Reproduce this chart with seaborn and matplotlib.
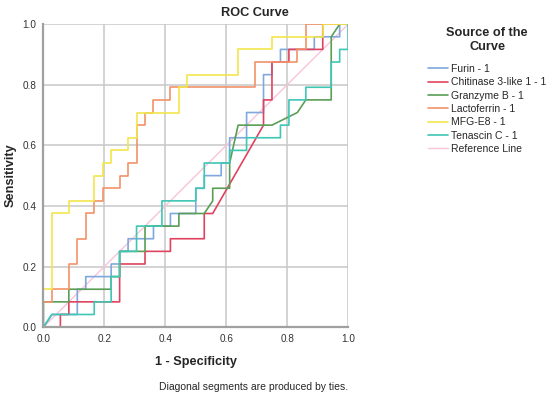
import matplotlib
matplotlib.use("Agg")
import matplotlib.pyplot as plt
import seaborn as sns
import pandas as pd
from matplotlib.lines import Line2D

# ROC vertices, as counts: false positives out of 36 negatives,
# true positives out of 24 positives
N_NEG = 36
N_POS = 24

furin_fp = [0, 1, 4, 4, 5, 5, 8, 8, 9, 9, 10, 10, 13, 13, 15, 15, 18, 18, 19, 19, 21, 21, 22, 22, 24, 24, 26, 26, 27, 27, 28, 28, 32, 32, 35, 35, 36]
furin_tp = [0, 1, 1, 3, 3, 4, 4, 5, 5, 6, 6, 7, 7, 8, 8, 9, 9, 11, 11, 12, 12, 13, 13, 15, 15, 17, 17, 20, 20, 21, 21, 22, 22, 23, 23, 24, 24]

chit_fp = [0, 2, 2, 3, 3, 9, 9, 12, 12, 15, 15, 19, 19, 20, 26, 26, 27, 27, 29, 29, 33, 33, 36]
chit_tp = [0, 0, 1, 1, 2, 2, 5, 5, 6, 6, 7, 7, 9, 9, 16, 18, 18, 21, 21, 22, 22, 24, 24]

gran_fp = [0, 0, 3, 3, 8, 8, 9, 9, 12, 12, 16, 16, 19, 20, 20, 22, 22, 23, 27, 30, 31, 34, 34, 35, 36]
gran_tp = [0, 2, 2, 3, 3, 4, 4, 6, 6, 8, 8, 9, 9, 10, 11, 11, 13, 16, 16, 17, 18, 18, 23, 24, 24]

lact_fp = [0, 0, 1, 1, 3, 3, 4, 4, 5, 5, 6, 6, 7, 7, 9, 9, 10, 10, 11, 11, 12, 12, 13, 13, 15, 15, 25, 25, 30, 30, 31, 31, 36]
lact_tp = [0, 2, 2, 3, 3, 5, 5, 7, 7, 9, 9, 10, 10, 11, 11, 12, 12, 13, 13, 16, 16, 17, 17, 18, 18, 19, 19, 21, 21, 22, 22, 24, 24]

mfge_fp = [0, 0, 1, 1, 3, 3, 6, 6, 7, 7, 8, 8, 10, 10, 11, 11, 16, 16, 17, 17, 23, 23, 27, 27, 33, 33, 36]
mfge_tp = [0, 3, 3, 9, 9, 10, 10, 12, 12, 13, 13, 14, 14, 15, 15, 17, 17, 19, 19, 20, 20, 22, 22, 23, 23, 24, 24]

tena_fp = [0, 1, 6, 6, 8, 8, 9, 9, 11, 11, 14, 14, 18, 18, 19, 19, 22, 22, 24, 24, 28, 28, 29, 29, 31, 31, 34, 34, 35, 35, 36, 36]
tena_tp = [0, 1, 1, 2, 2, 4, 4, 6, 6, 8, 8, 10, 10, 11, 11, 13, 13, 14, 14, 15, 15, 16, 16, 18, 18, 19, 19, 21, 21, 22, 22, 24]

ref_x = [0, 1]
ref_y = [0, 1]

names = ["Furin - 1", "Chitinase 3-like 1 - 1", "Granzyme B - 1",
         "Lactoferrin - 1", "MFG-E8 - 1", "Tenascin C - 1"]
fps = [furin_fp, chit_fp, gran_fp, lact_fp, mfge_fp, tena_fp]
tps = [furin_tp, chit_tp, gran_tp, lact_tp, mfge_tp, tena_tp]
colors = ["#7fa8dc", "#e0435f", "#5a9e56", "#f4926a", "#f2e54a", "#3fc6b4"]
ref_color = "#f9c4da"

rows = []
for name, fp, tp in zip(names, fps, tps):
    for i, (a, b) in enumerate(zip(fp, tp)):
        rows.append({"curve": name, "order": i, "fpr": a / N_NEG, "tpr": b / N_POS})
df = pd.DataFrame(rows)
ref_df = pd.DataFrame({"fpr": ref_x, "tpr": ref_y})

sns.set_theme(style="white")
plt.rcParams["font.family"] = ["Liberation Sans", "DejaVu Sans"]

fig = plt.figure(figsize=(5.5, 3.96), dpi=100)
ax = fig.add_axes([0.079, 0.174, 0.554, 0.765])

ax.set_xlim(0, 1)
ax.set_ylim(0, 1)
for v in [0.2, 0.4, 0.6, 0.8, 1.0]:
    ax.axvline(v, color="#c8c8c8", lw=1.1, zorder=0)
    ax.axhline(v, color="#c8c8c8", lw=1.1, zorder=0)

sns.lineplot(data=ref_df, x="fpr", y="tpr", color=ref_color, lw=1.0, ax=ax,
             estimator=None, sort=False, legend=False)
sns.lineplot(data=df, x="fpr", y="tpr", hue="curve", hue_order=names,
             palette=colors, units="curve", estimator=None, sort=False,
             lw=1.2, ax=ax, legend=False)

for s in ["top", "right"]:
    ax.spines[s].set_visible(False)
for s in ["left", "bottom"]:
    ax.spines[s].set_color("#a0a0a0")
    ax.spines[s].set_linewidth(1.6)

ticks = [0.0, 0.2, 0.4, 0.6, 0.8, 1.0]
ax.set_xticks(ticks)
ax.set_yticks(ticks)
ax.set_xticklabels([f"{t:.1f}" for t in ticks])
ax.set_yticklabels([f"{t:.1f}" for t in ticks])
ax.tick_params(axis="both", labelsize=7.2, colors="#333333", length=0, pad=5)
ax.set_xlabel("")
ax.set_ylabel("")
fig.text(0.356, 0.086, "1 - Specificity", fontsize=9.2, fontweight="bold", ha="center", va="center")
fig.text(0.019, 0.558, "Sensitivity", fontsize=9.2, fontweight="bold", ha="center", va="center",
         rotation=90)
fig.text(0.4636, 0.967, "ROC Curve", fontsize=9.2, fontweight="bold", ha="center", va="center")
fig.text(0.289, 0.023, "Diagonal segments are produced by ties.", fontsize=7.5, ha="left", va="center")

handles = [Line2D([], [], color=c, lw=1.2) for c in colors] + [Line2D([], [], color=ref_color, lw=1.0)]
labels = names + ["Reference Line"]
leg = fig.legend(handles, labels, title="Source of the\nCurve", loc="upper left",
                 bbox_to_anchor=(0.778, 0.932), frameon=False, fontsize=7.5,
                 title_fontproperties={"weight": "bold", "size": 9.2},
                 handlelength=1.95, handletextpad=0.3, labelspacing=0.32,
                 borderpad=0, borderaxespad=0)
leg.get_title().set_multialignment("center")
leg._legend_box.sep = 8

fig.savefig("out.png", dpi=100)
